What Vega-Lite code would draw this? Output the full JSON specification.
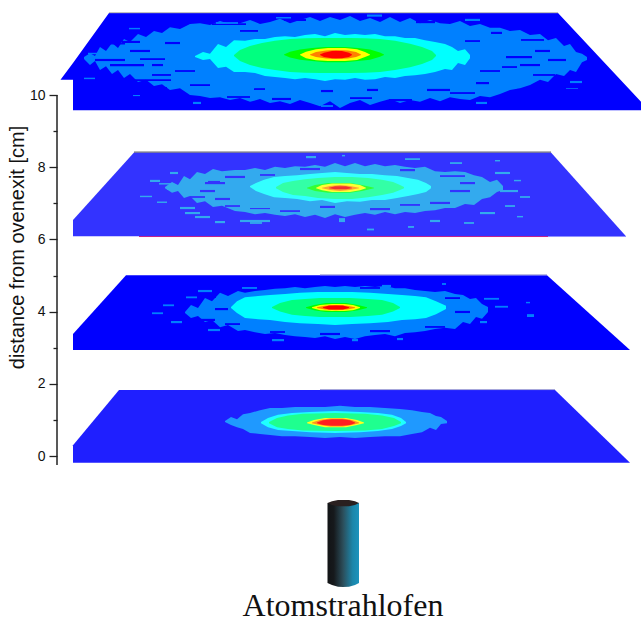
{"$schema":"https://vega.github.io/schema/vega-lite/v6.json","width":641,"height":619,"padding":0,"autosize":"none","background":"white","config":{"view":{"stroke":null}},
"datasets":{
"contours":[
{"level":"1a","x":60.5,"y":10.42,"y2":10.42},{"level":"1a","x":73,"y":10.89,"y2":10.42},{"level":"1a","x":73.01,"y":10.89,"y2":9.58},{"level":"1a","x":109,"y":12.27,"y2":9.58},{"level":"1a","x":558,"y":12.27,"y2":9.58},{"level":"1a","x":641,"y":9.81,"y2":9.58},
{"level":"1b","x":84,"y":11.05,"y2":11.0},{"level":"1b","x":90,"y":11.16,"y2":10.83},{"level":"1b","x":95,"y":11.08,"y2":10.94},{"level":"1b","x":100,"y":11.33,"y2":10.69},{"level":"1b","x":106,"y":11.22,"y2":10.8},{"level":"1b","x":112,"y":11.44,"y2":10.58},{"level":"1b","x":118,"y":11.3,"y2":10.69},{"level":"1b","x":124,"y":11.55,"y2":10.47},{"level":"1b","x":130,"y":11.47,"y2":10.58},{"level":"1b","x":138,"y":11.69,"y2":10.36},{"level":"1b","x":146,"y":11.61,"y2":10.42},{"level":"1b","x":154,"y":11.77,"y2":10.25},{"level":"1b","x":162,"y":11.72,"y2":10.3},{"level":"1b","x":170,"y":11.88,"y2":10.14},{"level":"1b","x":180,"y":11.83,"y2":10.19},{"level":"1b","x":190,"y":11.97,"y2":10.0},{"level":"1b","x":200,"y":11.99,"y2":9.97},{"level":"1b","x":210,"y":11.94,"y2":9.92},{"level":"1b","x":220,"y":12.05,"y2":9.94},{"level":"1b","x":230,"y":11.97,"y2":9.86},{"level":"1b","x":240,"y":11.99,"y2":9.92},{"level":"1b","x":250,"y":12.08,"y2":9.81},{"level":"1b","x":260,"y":11.97,"y2":9.89},{"level":"1b","x":270,"y":12.02,"y2":9.78},{"level":"1b","x":280,"y":12.11,"y2":9.83},{"level":"1b","x":290,"y":11.99,"y2":9.75},{"level":"1b","x":300,"y":12.08,"y2":9.86},{"level":"1b","x":310,"y":12.16,"y2":9.78},{"level":"1b","x":320,"y":12.05,"y2":9.69},{"level":"1b","x":330,"y":12.16,"y2":9.83},{"level":"1b","x":340,"y":12.08,"y2":9.64},{"level":"1b","x":350,"y":12.19,"y2":9.78},{"level":"1b","x":360,"y":12.05,"y2":9.86},{"level":"1b","x":370,"y":12.13,"y2":9.72},{"level":"1b","x":380,"y":12.02,"y2":9.81},{"level":"1b","x":390,"y":12.16,"y2":9.89},{"level":"1b","x":400,"y":12.02,"y2":9.78},{"level":"1b","x":410,"y":12.13,"y2":9.86},{"level":"1b","x":420,"y":11.99,"y2":9.81},{"level":"1b","x":430,"y":12.08,"y2":9.92},{"level":"1b","x":440,"y":11.99,"y2":9.83},{"level":"1b","x":450,"y":11.97,"y2":9.94},{"level":"1b","x":460,"y":12.05,"y2":9.89},{"level":"1b","x":470,"y":11.91,"y2":9.86},{"level":"1b","x":480,"y":11.97,"y2":9.97},{"level":"1b","x":490,"y":11.86,"y2":9.94},{"level":"1b","x":500,"y":11.86,"y2":10.03},{"level":"1b","x":510,"y":11.77,"y2":10.14},{"level":"1b","x":520,"y":11.8,"y2":10.19},{"level":"1b","x":530,"y":11.66,"y2":10.28},{"level":"1b","x":540,"y":11.69,"y2":10.42},{"level":"1b","x":548,"y":11.52,"y2":10.36},{"level":"1b","x":556,"y":11.58,"y2":10.58},{"level":"1b","x":564,"y":11.36,"y2":10.53},{"level":"1b","x":570,"y":11.41,"y2":10.69},{"level":"1b","x":576,"y":11.19,"y2":10.64},{"level":"1b","x":582,"y":11.14,"y2":10.91},{"level":"1b","x":587,"y":11.05,"y2":10.97},
{"level":"1c","x":195,"y":11.08,"y2":11.05},{"level":"1c","x":203,"y":11.19,"y2":10.97},{"level":"1c","x":210,"y":11.14,"y2":11.0},{"level":"1c","x":218,"y":11.41,"y2":10.75},{"level":"1c","x":226,"y":11.33,"y2":10.78},{"level":"1c","x":234,"y":11.52,"y2":10.64},{"level":"1c","x":245,"y":11.5,"y2":10.64},{"level":"1c","x":255,"y":11.55,"y2":10.61},{"level":"1c","x":265,"y":11.55,"y2":10.53},{"level":"1c","x":275,"y":11.61,"y2":10.5},{"level":"1c","x":285,"y":11.63,"y2":10.47},{"level":"1c","x":295,"y":11.61,"y2":10.44},{"level":"1c","x":305,"y":11.66,"y2":10.47},{"level":"1c","x":315,"y":11.69,"y2":10.44},{"level":"1c","x":325,"y":11.63,"y2":10.39},{"level":"1c","x":335,"y":11.72,"y2":10.44},{"level":"1c","x":345,"y":11.66,"y2":10.42},{"level":"1c","x":355,"y":11.69,"y2":10.47},{"level":"1c","x":365,"y":11.66,"y2":10.42},{"level":"1c","x":375,"y":11.69,"y2":10.44},{"level":"1c","x":385,"y":11.63,"y2":10.5},{"level":"1c","x":395,"y":11.63,"y2":10.47},{"level":"1c","x":405,"y":11.58,"y2":10.53},{"level":"1c","x":415,"y":11.58,"y2":10.55},{"level":"1c","x":425,"y":11.52,"y2":10.58},{"level":"1c","x":435,"y":11.47,"y2":10.64},{"level":"1c","x":445,"y":11.41,"y2":10.72},{"level":"1c","x":452,"y":11.33,"y2":10.69},{"level":"1c","x":458,"y":11.22,"y2":10.89},{"level":"1c","x":465,"y":11.27,"y2":10.83},{"level":"1c","x":470,"y":11.11,"y2":11.02},
{"level":"1d","x":234,"y":11.11,"y2":11.08},{"level":"1d","x":240,"y":11.25,"y2":10.94},{"level":"1d","x":250,"y":11.36,"y2":10.83},{"level":"1d","x":262,"y":11.44,"y2":10.75},{"level":"1d","x":275,"y":11.5,"y2":10.69},{"level":"1d","x":290,"y":11.55,"y2":10.64},{"level":"1d","x":305,"y":11.57,"y2":10.62},{"level":"1d","x":320,"y":11.58,"y2":10.61},{"level":"1d","x":350,"y":11.58,"y2":10.61},{"level":"1d","x":365,"y":11.57,"y2":10.62},{"level":"1d","x":380,"y":11.55,"y2":10.64},{"level":"1d","x":395,"y":11.5,"y2":10.69},{"level":"1d","x":410,"y":11.42,"y2":10.77},{"level":"1d","x":422,"y":11.33,"y2":10.86},{"level":"1d","x":432,"y":11.22,"y2":10.97},{"level":"1d","x":436,"y":11.11,"y2":11.08},
{"level":"1e","x":284,"y":11.12,"y2":11.11},{"level":"1e","x":290,"y":11.2,"y2":11.04},{"level":"1e","x":300,"y":11.26,"y2":10.98},{"level":"1e","x":312,"y":11.3,"y2":10.94},{"level":"1e","x":325,"y":11.33,"y2":10.91},{"level":"1e","x":345,"y":11.33,"y2":10.91},{"level":"1e","x":358,"y":11.3,"y2":10.94},{"level":"1e","x":370,"y":11.26,"y2":10.98},{"level":"1e","x":380,"y":11.18,"y2":11.06},{"level":"1e","x":384,"y":11.12,"y2":11.11},
{"level":"1f","x":300,"y":11.12,"y2":11.11},{"level":"1f","x":306,"y":11.2,"y2":11.02},{"level":"1f","x":316,"y":11.27,"y2":10.96},{"level":"1f","x":328,"y":11.3,"y2":10.94},{"level":"1f","x":345,"y":11.3,"y2":10.94},{"level":"1f","x":357,"y":11.27,"y2":10.97},{"level":"1f","x":365,"y":11.19,"y2":11.05},{"level":"1f","x":370,"y":11.12,"y2":11.11},
{"level":"1g","x":310,"y":11.12,"y2":11.11},{"level":"1g","x":316,"y":11.19,"y2":11.05},{"level":"1g","x":326,"y":11.23,"y2":11.01},{"level":"1g","x":336,"y":11.25,"y2":11.0},{"level":"1g","x":348,"y":11.23,"y2":11.01},{"level":"1g","x":356,"y":11.19,"y2":11.05},{"level":"1g","x":361,"y":11.12,"y2":11.11},
{"level":"1h","x":320,"y":11.12,"y2":11.11},{"level":"1h","x":324,"y":11.17,"y2":11.05},{"level":"1h","x":332,"y":11.22,"y2":11.02},{"level":"1h","x":342,"y":11.22,"y2":11.02},{"level":"1h","x":349,"y":11.17,"y2":11.05},{"level":"1h","x":352,"y":11.12,"y2":11.11},
{"level":"2a","x":73,"y":6.54,"y2":6.09},{"level":"2a","x":134,"y":8.41,"y2":6.09},{"level":"2a","x":551,"y":8.41,"y2":6.09},{"level":"2a","x":626,"y":6.09,"y2":6.09},
{"level":"2b","x":165,"y":7.45,"y2":7.42},{"level":"2b","x":172,"y":7.59,"y2":7.29},{"level":"2b","x":178,"y":7.51,"y2":7.34},{"level":"2b","x":184,"y":7.76,"y2":7.15},{"level":"2b","x":190,"y":7.67,"y2":7.2},{"level":"2b","x":197,"y":7.87,"y2":7.01},{"level":"2b","x":205,"y":7.81,"y2":7.06},{"level":"2b","x":213,"y":7.95,"y2":6.9},{"level":"2b","x":222,"y":7.89,"y2":6.93},{"level":"2b","x":235,"y":7.92,"y2":6.79},{"level":"2b","x":245,"y":7.92,"y2":6.76},{"level":"2b","x":255,"y":7.98,"y2":6.7},{"level":"2b","x":265,"y":7.92,"y2":6.73},{"level":"2b","x":275,"y":8.01,"y2":6.68},{"level":"2b","x":285,"y":7.98,"y2":6.65},{"level":"2b","x":295,"y":8.03,"y2":6.7},{"level":"2b","x":305,"y":8.01,"y2":6.62},{"level":"2b","x":315,"y":8.06,"y2":6.68},{"level":"2b","x":325,"y":8.01,"y2":6.59},{"level":"2b","x":335,"y":8.12,"y2":6.7},{"level":"2b","x":345,"y":8.03,"y2":6.62},{"level":"2b","x":355,"y":8.12,"y2":6.68},{"level":"2b","x":365,"y":8.03,"y2":6.73},{"level":"2b","x":375,"y":8.09,"y2":6.68},{"level":"2b","x":385,"y":8.03,"y2":6.76},{"level":"2b","x":395,"y":8.06,"y2":6.7},{"level":"2b","x":405,"y":8.01,"y2":6.76},{"level":"2b","x":415,"y":7.98,"y2":6.73},{"level":"2b","x":425,"y":8.01,"y2":6.79},{"level":"2b","x":435,"y":7.89,"y2":6.81},{"level":"2b","x":445,"y":7.87,"y2":6.87},{"level":"2b","x":455,"y":7.89,"y2":6.87},{"level":"2b","x":465,"y":7.87,"y2":6.98},{"level":"2b","x":474,"y":7.78,"y2":6.95},{"level":"2b","x":482,"y":7.73,"y2":7.12},{"level":"2b","x":490,"y":7.59,"y2":7.17},{"level":"2b","x":497,"y":7.65,"y2":7.31},{"level":"2b","x":503,"y":7.48,"y2":7.37},
{"level":"2c","x":250,"y":7.48,"y2":7.45},{"level":"2c","x":256,"y":7.56,"y2":7.34},{"level":"2c","x":264,"y":7.65,"y2":7.26},{"level":"2c","x":274,"y":7.73,"y2":7.17},{"level":"2c","x":285,"y":7.76,"y2":7.15},{"level":"2c","x":297,"y":7.78,"y2":7.12},{"level":"2c","x":310,"y":7.81,"y2":7.06},{"level":"2c","x":322,"y":7.84,"y2":7.09},{"level":"2c","x":335,"y":7.87,"y2":7.01},{"level":"2c","x":347,"y":7.84,"y2":7.06},{"level":"2c","x":360,"y":7.81,"y2":7.04},{"level":"2c","x":372,"y":7.81,"y2":7.09},{"level":"2c","x":385,"y":7.78,"y2":7.09},{"level":"2c","x":397,"y":7.76,"y2":7.15},{"level":"2c","x":408,"y":7.7,"y2":7.2},{"level":"2c","x":418,"y":7.65,"y2":7.26},{"level":"2c","x":426,"y":7.56,"y2":7.31},{"level":"2c","x":431,"y":7.48,"y2":7.42},
{"level":"2d","x":276,"y":7.45,"y2":7.42},{"level":"2d","x":283,"y":7.56,"y2":7.31},{"level":"2d","x":293,"y":7.62,"y2":7.23},{"level":"2d","x":305,"y":7.67,"y2":7.2},{"level":"2d","x":318,"y":7.7,"y2":7.15},{"level":"2d","x":335,"y":7.73,"y2":7.12},{"level":"2d","x":352,"y":7.73,"y2":7.12},{"level":"2d","x":368,"y":7.7,"y2":7.17},{"level":"2d","x":382,"y":7.65,"y2":7.23},{"level":"2d","x":393,"y":7.59,"y2":7.29},{"level":"2d","x":400,"y":7.51,"y2":7.37},{"level":"2d","x":404,"y":7.45,"y2":7.42},
{"level":"2e","x":307,"y":7.43,"y2":7.42},{"level":"2e","x":315,"y":7.51,"y2":7.34},{"level":"2e","x":328,"y":7.56,"y2":7.29},{"level":"2e","x":350,"y":7.56,"y2":7.29},{"level":"2e","x":362,"y":7.51,"y2":7.34},{"level":"2e","x":374,"y":7.43,"y2":7.42},
{"level":"2f","x":316,"y":7.43,"y2":7.42},{"level":"2f","x":322,"y":7.51,"y2":7.36},{"level":"2f","x":332,"y":7.55,"y2":7.31},{"level":"2f","x":350,"y":7.55,"y2":7.31},{"level":"2f","x":360,"y":7.51,"y2":7.36},{"level":"2f","x":366,"y":7.43,"y2":7.42},
{"level":"2g","x":322,"y":7.43,"y2":7.42},{"level":"2g","x":330,"y":7.48,"y2":7.37},{"level":"2g","x":340,"y":7.51,"y2":7.34},{"level":"2g","x":350,"y":7.48,"y2":7.37},{"level":"2g","x":359,"y":7.43,"y2":7.42},
{"level":"2h","x":329,"y":7.43,"y2":7.42},{"level":"2h","x":335,"y":7.47,"y2":7.39},{"level":"2h","x":346,"y":7.47,"y2":7.39},{"level":"2h","x":352,"y":7.43,"y2":7.42},
{"level":"3a","x":73,"y":3.38,"y2":2.94},{"level":"3a","x":126,"y":5.01,"y2":2.94},{"level":"3a","x":547,"y":5.01,"y2":2.94},{"level":"3a","x":630,"y":2.94,"y2":2.94},
{"level":"3b","x":185,"y":3.99,"y2":3.96},{"level":"3b","x":191,"y":4.18,"y2":3.82},{"level":"3b","x":198,"y":4.1,"y2":3.88},{"level":"3b","x":205,"y":4.38,"y2":3.71},{"level":"3b","x":212,"y":4.29,"y2":3.77},{"level":"3b","x":220,"y":4.52,"y2":3.57},{"level":"3b","x":228,"y":4.43,"y2":3.63},{"level":"3b","x":238,"y":4.57,"y2":3.46},{"level":"3b","x":245,"y":4.52,"y2":3.49},{"level":"3b","x":255,"y":4.57,"y2":3.43},{"level":"3b","x":265,"y":4.6,"y2":3.38},{"level":"3b","x":275,"y":4.63,"y2":3.41},{"level":"3b","x":285,"y":4.65,"y2":3.35},{"level":"3b","x":295,"y":4.68,"y2":3.32},{"level":"3b","x":305,"y":4.65,"y2":3.3},{"level":"3b","x":315,"y":4.68,"y2":3.27},{"level":"3b","x":325,"y":4.71,"y2":3.32},{"level":"3b","x":335,"y":4.68,"y2":3.24},{"level":"3b","x":345,"y":4.71,"y2":3.3},{"level":"3b","x":355,"y":4.68,"y2":3.24},{"level":"3b","x":365,"y":4.71,"y2":3.32},{"level":"3b","x":375,"y":4.68,"y2":3.35},{"level":"3b","x":385,"y":4.71,"y2":3.38},{"level":"3b","x":395,"y":4.65,"y2":3.32},{"level":"3b","x":405,"y":4.65,"y2":3.41},{"level":"3b","x":415,"y":4.6,"y2":3.43},{"level":"3b","x":425,"y":4.57,"y2":3.46},{"level":"3b","x":435,"y":4.54,"y2":3.52},{"level":"3b","x":445,"y":4.57,"y2":3.55},{"level":"3b","x":455,"y":4.49,"y2":3.52},{"level":"3b","x":463,"y":4.46,"y2":3.71},{"level":"3b","x":470,"y":4.35,"y2":3.66},{"level":"3b","x":476,"y":4.38,"y2":3.85},{"level":"3b","x":482,"y":4.21,"y2":3.8},{"level":"3b","x":488,"y":4.13,"y2":3.99},
{"level":"3c","x":231,"y":4.13,"y2":4.1},{"level":"3c","x":237,"y":4.29,"y2":3.96},{"level":"3c","x":245,"y":4.4,"y2":3.82},{"level":"3c","x":258,"y":4.43,"y2":3.79},{"level":"3c","x":270,"y":4.46,"y2":3.77},{"level":"3c","x":285,"y":4.49,"y2":3.71},{"level":"3c","x":300,"y":4.52,"y2":3.68},{"level":"3c","x":318,"y":4.54,"y2":3.66},{"level":"3c","x":335,"y":4.54,"y2":3.63},{"level":"3c","x":352,"y":4.54,"y2":3.66},{"level":"3c","x":370,"y":4.52,"y2":3.68},{"level":"3c","x":388,"y":4.49,"y2":3.71},{"level":"3c","x":402,"y":4.46,"y2":3.77},{"level":"3c","x":415,"y":4.43,"y2":3.79},{"level":"3c","x":426,"y":4.4,"y2":3.82},{"level":"3c","x":436,"y":4.29,"y2":3.93},{"level":"3c","x":446,"y":4.16,"y2":4.07},
{"level":"3d","x":272,"y":4.13,"y2":4.1},{"level":"3d","x":280,"y":4.24,"y2":4.0},{"level":"3d","x":292,"y":4.32,"y2":3.91},{"level":"3d","x":305,"y":4.35,"y2":3.88},{"level":"3d","x":320,"y":4.38,"y2":3.85},{"level":"3d","x":350,"y":4.38,"y2":3.85},{"level":"3d","x":368,"y":4.35,"y2":3.88},{"level":"3d","x":382,"y":4.32,"y2":3.91},{"level":"3d","x":393,"y":4.24,"y2":4.0},{"level":"3d","x":400,"y":4.13,"y2":4.1},
{"level":"3e","x":306,"y":4.12,"y2":4.1},{"level":"3e","x":314,"y":4.18,"y2":4.04},{"level":"3e","x":326,"y":4.24,"y2":3.99},{"level":"3e","x":346,"y":4.24,"y2":3.99},{"level":"3e","x":358,"y":4.18,"y2":4.04},{"level":"3e","x":367,"y":4.12,"y2":4.1},
{"level":"3f","x":312,"y":4.12,"y2":4.1},{"level":"3f","x":320,"y":4.18,"y2":4.04},{"level":"3f","x":332,"y":4.21,"y2":4.02},{"level":"3f","x":344,"y":4.21,"y2":4.02},{"level":"3f","x":353,"y":4.18,"y2":4.04},{"level":"3f","x":360,"y":4.12,"y2":4.1},
{"level":"3g","x":317,"y":4.12,"y2":4.1},{"level":"3g","x":325,"y":4.16,"y2":4.06},{"level":"3g","x":336,"y":4.18,"y2":4.04},{"level":"3g","x":347,"y":4.16,"y2":4.06},{"level":"3g","x":355,"y":4.12,"y2":4.1},
{"level":"3h","x":323,"y":4.12,"y2":4.1},{"level":"3h","x":329,"y":4.17,"y2":4.06},{"level":"3h","x":343,"y":4.17,"y2":4.06},{"level":"3h","x":349,"y":4.12,"y2":4.1},
{"level":"4a","x":73,"y":0.3,"y2":-0.19},{"level":"4a","x":119,"y":1.83,"y2":-0.19},{"level":"4a","x":555,"y":1.83,"y2":-0.19},{"level":"4a","x":630,"y":-0.19,"y2":-0.19},
{"level":"4b","x":225,"y":0.97,"y2":0.94},{"level":"4b","x":231,"y":1.08,"y2":0.86},{"level":"4b","x":237,"y":1.02,"y2":0.8},{"level":"4b","x":243,"y":1.16,"y2":0.75},{"level":"4b","x":250,"y":1.19,"y2":0.64},{"level":"4b","x":260,"y":1.27,"y2":0.61},{"level":"4b","x":270,"y":1.33,"y2":0.58},{"level":"4b","x":282,"y":1.33,"y2":0.55},{"level":"4b","x":295,"y":1.36,"y2":0.55},{"level":"4b","x":310,"y":1.36,"y2":0.53},{"level":"4b","x":325,"y":1.36,"y2":0.5},{"level":"4b","x":340,"y":1.39,"y2":0.53},{"level":"4b","x":355,"y":1.36,"y2":0.5},{"level":"4b","x":370,"y":1.36,"y2":0.53},{"level":"4b","x":385,"y":1.33,"y2":0.55},{"level":"4b","x":400,"y":1.3,"y2":0.55},{"level":"4b","x":412,"y":1.27,"y2":0.61},{"level":"4b","x":422,"y":1.22,"y2":0.66},{"level":"4b","x":430,"y":1.19,"y2":0.78},{"level":"4b","x":436,"y":1.11,"y2":0.72},{"level":"4b","x":441,"y":1.08,"y2":0.89},{"level":"4b","x":447,"y":0.97,"y2":0.91},
{"level":"4c","x":261,"y":0.94,"y2":0.91},{"level":"4c","x":268,"y":1.05,"y2":0.8},{"level":"4c","x":278,"y":1.14,"y2":0.72},{"level":"4c","x":292,"y":1.19,"y2":0.69},{"level":"4c","x":310,"y":1.22,"y2":0.66},{"level":"4c","x":335,"y":1.25,"y2":0.64},{"level":"4c","x":360,"y":1.22,"y2":0.66},{"level":"4c","x":378,"y":1.19,"y2":0.69},{"level":"4c","x":392,"y":1.14,"y2":0.75},{"level":"4c","x":401,"y":1.05,"y2":0.83},{"level":"4c","x":406,"y":0.94,"y2":0.91},
{"level":"4d","x":269,"y":0.94,"y2":0.91},{"level":"4d","x":277,"y":1.05,"y2":0.8},{"level":"4d","x":288,"y":1.12,"y2":0.75},{"level":"4d","x":303,"y":1.17,"y2":0.71},{"level":"4d","x":335,"y":1.19,"y2":0.69},{"level":"4d","x":365,"y":1.17,"y2":0.71},{"level":"4d","x":382,"y":1.12,"y2":0.75},{"level":"4d","x":394,"y":1.05,"y2":0.83},{"level":"4d","x":401,"y":0.94,"y2":0.91},
{"level":"4f","x":307,"y":0.93,"y2":0.91},{"level":"4f","x":314,"y":1.0,"y2":0.86},{"level":"4f","x":325,"y":1.05,"y2":0.8},{"level":"4f","x":346,"y":1.05,"y2":0.8},{"level":"4f","x":357,"y":1.0,"y2":0.86},{"level":"4f","x":364,"y":0.93,"y2":0.91},
{"level":"4g","x":312,"y":0.93,"y2":0.91},{"level":"4g","x":320,"y":1.0,"y2":0.86},{"level":"4g","x":330,"y":1.04,"y2":0.82},{"level":"4g","x":343,"y":1.04,"y2":0.82},{"level":"4g","x":352,"y":1.0,"y2":0.86},{"level":"4g","x":359,"y":0.93,"y2":0.91},
{"level":"4h","x":317,"y":0.93,"y2":0.91},{"level":"4h","x":323,"y":0.99,"y2":0.86},{"level":"4h","x":332,"y":1.02,"y2":0.84},{"level":"4h","x":342,"y":1.02,"y2":0.84},{"level":"4h","x":350,"y":0.99,"y2":0.86},{"level":"4h","x":355,"y":0.93,"y2":0.91}
],
"specks":[
{"level":"1a","x":107,"x2":125,"y":11.44,"y2":11.4},{"level":"1a","x":122,"x2":140,"y":11.5,"y2":11.44},{"level":"1a","x":95,"x2":125,"y":11.0,"y2":10.94},{"level":"1a","x":110,"x2":144,"y":10.86,"y2":10.8},{"level":"1a","x":122,"x2":171,"y":10.44,"y2":10.39},{"level":"1a","x":152,"x2":163,"y":10.86,"y2":10.8},{"level":"1a","x":152,"x2":171,"y":10.58,"y2":10.53},{"level":"1a","x":155,"x2":167,"y":10.22,"y2":10.17},{"level":"1a","x":212,"x2":246,"y":11.99,"y2":11.94},{"level":"1a","x":227,"x2":250,"y":9.97,"y2":9.92},{"level":"1a","x":254,"x2":265,"y":10.19,"y2":10.14},{"level":"1a","x":272,"x2":291,"y":9.92,"y2":9.86},{"level":"1a","x":321,"x2":333,"y":10.14,"y2":10.08},{"level":"1a","x":367,"x2":378,"y":10.17,"y2":10.11},{"level":"1a","x":427,"x2":450,"y":10.17,"y2":10.11},{"level":"1a","x":389,"x2":412,"y":9.89,"y2":9.83},{"level":"1a","x":476,"x2":489,"y":10.36,"y2":10.3},{"level":"1a","x":517,"x2":536,"y":10.17,"y2":10.11},{"level":"1a","x":533,"x2":555,"y":10.58,"y2":10.53},{"level":"1a","x":548,"x2":566,"y":11.0,"y2":10.94},{"level":"1a","x":521,"x2":544,"y":11.55,"y2":11.5},{"level":"1a","x":491,"x2":502,"y":11.75,"y2":11.69},{"level":"1a","x":416,"x2":435,"y":12.05,"y2":11.99},{"level":"1a","x":284,"x2":306,"y":12.11,"y2":12.05},{"level":"1a","x":506,"x2":532,"y":11.08,"y2":11.02},{"level":"1a","x":502,"x2":517,"y":10.8,"y2":10.75},{"level":"1a","x":130,"x2":150,"y":11.25,"y2":11.19},{"level":"1a","x":140,"x2":165,"y":11.02,"y2":10.97},{"level":"1a","x":165,"x2":180,"y":11.47,"y2":11.41},{"level":"1a","x":175,"x2":195,"y":10.69,"y2":10.64},{"level":"1a","x":190,"x2":210,"y":10.3,"y2":10.25},{"level":"1a","x":240,"x2":258,"y":11.8,"y2":11.75},{"level":"1a","x":350,"x2":372,"y":9.94,"y2":9.89},{"level":"1a","x":465,"x2":480,"y":11.52,"y2":11.47},{"level":"1a","x":480,"x2":500,"y":10.69,"y2":10.64},{"level":"1a","x":520,"x2":540,"y":10.86,"y2":10.8},{"level":"1a","x":535,"x2":550,"y":11.25,"y2":11.19},{"level":"1a","x":450,"x2":475,"y":10.08,"y2":10.03},
{"level":"1b","x":129,"x2":140,"y":11.86,"y2":11.82},{"level":"1b","x":88,"x2":99,"y":11.17,"y2":11.13},{"level":"1b","x":84,"x2":95,"y":10.48,"y2":10.44},{"level":"1b","x":133,"x2":140,"y":10.0,"y2":9.97},{"level":"1b","x":193,"x2":201,"y":9.81,"y2":9.75},{"level":"1b","x":321,"x2":333,"y":9.72,"y2":9.67},{"level":"1b","x":216,"x2":238,"y":12.02,"y2":11.97},{"level":"1b","x":367,"x2":382,"y":12.23,"y2":12.17},{"level":"1b","x":276,"x2":291,"y":12.16,"y2":12.12},{"level":"1b","x":476,"x2":487,"y":9.81,"y2":9.75},{"level":"1b","x":566,"x2":578,"y":10.19,"y2":10.17},{"level":"1b","x":570,"x2":582,"y":10.39,"y2":10.33},{"level":"1b","x":465,"x2":480,"y":12.11,"y2":12.05},
{"level":"2a","x":208,"x2":220,"y":7.62,"y2":7.58},{"level":"2a","x":200,"x2":215,"y":7.37,"y2":7.31},{"level":"2a","x":205,"x2":225,"y":7.59,"y2":7.53},{"level":"2a","x":190,"x2":205,"y":7.2,"y2":7.15},{"level":"2a","x":215,"x2":230,"y":7.15,"y2":7.09},{"level":"2a","x":225,"x2":240,"y":6.95,"y2":6.9},{"level":"2a","x":250,"x2":270,"y":6.87,"y2":6.84},{"level":"2a","x":280,"x2":300,"y":6.81,"y2":6.76},{"level":"2a","x":320,"x2":335,"y":6.93,"y2":6.87},{"level":"2a","x":370,"x2":390,"y":6.87,"y2":6.81},{"level":"2a","x":400,"x2":420,"y":6.98,"y2":6.93},{"level":"2a","x":430,"x2":450,"y":7.04,"y2":6.98},{"level":"2a","x":450,"x2":470,"y":7.37,"y2":7.31},{"level":"2a","x":460,"x2":475,"y":7.59,"y2":7.53},{"level":"2a","x":440,"x2":465,"y":7.78,"y2":7.73},{"level":"2a","x":400,"x2":415,"y":7.95,"y2":7.89},{"level":"2a","x":300,"x2":320,"y":7.98,"y2":7.92},{"level":"2a","x":260,"x2":275,"y":7.81,"y2":7.76},{"level":"2a","x":225,"x2":245,"y":7.76,"y2":7.7},
{"level":"2b","x":140,"x2":152,"y":7.21,"y2":7.17},{"level":"2b","x":157,"x2":167,"y":7.05,"y2":7.01},{"level":"2b","x":159,"x2":174,"y":7.56,"y2":7.52},{"level":"2b","x":167,"x2":182,"y":7.42,"y2":7.37},{"level":"2b","x":180,"x2":195,"y":6.9,"y2":6.84},{"level":"2b","x":195,"x2":210,"y":6.65,"y2":6.59},{"level":"2b","x":215,"x2":225,"y":6.51,"y2":6.45},{"level":"2b","x":240,"x2":270,"y":6.54,"y2":6.48},{"level":"2b","x":339,"x2":345,"y":6.59,"y2":6.48},{"level":"2b","x":367,"x2":374,"y":6.3,"y2":6.25},{"level":"2b","x":408,"x2":414,"y":6.37,"y2":6.32},{"level":"2b","x":430,"x2":440,"y":6.54,"y2":6.48},{"level":"2b","x":464,"x2":474,"y":6.48,"y2":6.43},{"level":"2b","x":517,"x2":523,"y":6.65,"y2":6.61},{"level":"2b","x":520,"x2":530,"y":7.2,"y2":7.15},{"level":"2b","x":514,"x2":521,"y":7.65,"y2":7.61},{"level":"2b","x":495,"x2":510,"y":7.87,"y2":7.81},{"level":"2b","x":495,"x2":500,"y":8.2,"y2":8.16},{"level":"2b","x":405,"x2":420,"y":8.25,"y2":8.2},{"level":"2b","x":306,"x2":316,"y":8.31,"y2":8.25},{"level":"2b","x":342,"x2":345,"y":8.34,"y2":8.3},{"level":"2b","x":150,"x2":160,"y":7.65,"y2":7.59},{"level":"2b","x":185,"x2":200,"y":6.76,"y2":6.7},{"level":"2b","x":250,"x2":262,"y":6.48,"y2":6.43},{"level":"2b","x":480,"x2":495,"y":6.76,"y2":6.7},{"level":"2b","x":505,"x2":515,"y":6.95,"y2":6.9},{"level":"2b","x":500,"x2":518,"y":7.37,"y2":7.31},{"level":"2b","x":170,"x2":178,"y":7.87,"y2":7.81},{"level":"2b","x":450,"x2":462,"y":8.14,"y2":8.09},
{"level":"3a","x":200,"x2":215,"y":3.8,"y2":3.74},{"level":"3a","x":215,"x2":228,"y":4.1,"y2":4.04},{"level":"3a","x":205,"x2":216,"y":4.43,"y2":4.38},{"level":"3a","x":225,"x2":240,"y":3.68,"y2":3.63},{"level":"3a","x":270,"x2":285,"y":3.46,"y2":3.41},{"level":"3a","x":320,"x2":340,"y":3.41,"y2":3.35},{"level":"3a","x":370,"x2":390,"y":3.49,"y2":3.43},{"level":"3a","x":425,"x2":445,"y":3.6,"y2":3.55},{"level":"3a","x":455,"x2":470,"y":4.02,"y2":3.96},{"level":"3a","x":445,"x2":460,"y":4.4,"y2":4.35},{"level":"3a","x":360,"x2":380,"y":4.68,"y2":4.63},
{"level":"3b","x":152,"x2":163,"y":3.98,"y2":3.93},{"level":"3b","x":171,"x2":182,"y":3.74,"y2":3.68},{"level":"3b","x":163,"x2":174,"y":4.2,"y2":4.15},{"level":"3b","x":186,"x2":197,"y":4.42,"y2":4.37},{"level":"3b","x":198,"x2":212,"y":4.6,"y2":4.54},{"level":"3b","x":208,"x2":220,"y":3.52,"y2":3.46},{"level":"3b","x":272,"x2":284,"y":3.24,"y2":3.18},{"level":"3b","x":352,"x2":358,"y":3.24,"y2":3.18},{"level":"3b","x":397,"x2":403,"y":3.27,"y2":3.21},{"level":"3b","x":480,"x2":487,"y":3.74,"y2":3.68},{"level":"3b","x":495,"x2":508,"y":4.16,"y2":4.11},{"level":"3b","x":484,"x2":499,"y":4.38,"y2":4.33},{"level":"3b","x":527,"x2":534,"y":3.93,"y2":3.85},{"level":"3b","x":526,"x2":530,"y":4.27,"y2":4.23},{"level":"3b","x":442,"x2":446,"y":4.79,"y2":4.74},{"level":"3b","x":382,"x2":391,"y":4.74,"y2":4.68},{"level":"3b","x":242,"x2":257,"y":4.68,"y2":4.63}
],
"edges":[
{"level":"e1","x":109,"x2":558,"y":12.28},{"level":"e2","x":134,"x2":551,"y":8.42},{"level":"e3","x":139,"x2":548,"y":6.08},{"level":"e4","x":548,"x2":626,"y":6.08},{"level":"e5","x":320,"x2":547,"y":5.02},{"level":"e5","x":320,"x2":555,"y":1.84}
],
"ovenBody":[
{"x":327.5,"y":-1.3,"y2":-3.52},{"x":332,"y":-1.3,"y2":-3.57},{"x":338,"y":-1.3,"y2":-3.62},{"x":343,"y":-1.3,"y2":-3.63},{"x":349,"y":-1.3,"y2":-3.62},{"x":355,"y":-1.3,"y2":-3.57},{"x":359,"y":-1.3,"y2":-3.52}
],
"ovenTop":[
{"x":327.5,"y":-1.3,"y2":-1.3},{"x":332,"y":-1.25,"y2":-1.36},{"x":338,"y":-1.22,"y2":-1.39},{"x":343,"y":-1.22,"y2":-1.39},{"x":349,"y":-1.22,"y2":-1.39},{"x":355,"y":-1.25,"y2":-1.36},{"x":359,"y":-1.3,"y2":-1.3}
],
"axisLine":[{"x":57,"y":10,"y2":-0.25}],
"caption":[{"x":343,"y":-4.43,"label":"Atomstrahlofen"}]
},
"encoding":{
"x":{"field":"x","type":"quantitative","scale":{"domain":[0,641],"nice":false,"zero":false},"axis":null},
"y":{"field":"y","type":"quantitative","scale":{"domain":[-4.515,12.632],"nice":false,"zero":false},
"axis":{"orient":"left","offset":-57,"values":[0,1,2,3,4,5,6,7,8,9,10],"labelExpr":"datum.value % 2 == 0 ? datum.label : ''","domain":false,"grid":false,"tickColor":"#222","tickWidth":1.3,"tickSize":{"condition":{"test":"datum.value % 2 == 1","value":4},"value":8},"labelFont":"Liberation Sans","labelFontSize":14,"labelColor":"#111","labelPadding":4,"title":"distance from ovenexit [cm]","titleFont":"Liberation Sans","titleFontSize":20,"titleFontWeight":"normal","titleColor":"#111","titleX":-30,"titleY":247,"titleAngle":-90,"titleAlign":"center"}}
},
"layer":[
{"data":{"name":"contours"},"mark":{"type":"area","interpolate":"linear"},"encoding":{"y2":{"field":"y2"},"color":{"field":"level","type":"nominal","legend":null,"scale":{"domain":["1a","1b","1c","1d","1e","1f","1g","1h","2a","2b","2c","2d","2e","2f","2g","2h","3a","3b","3c","3d","3e","3f","3g","3h","4a","4b","4c","4d","4f","4g","4h","e1","e2","e3","e4","e5"],"range":["#0000ff","#0080ff","#00ffff","#00ff80","#00ff00","#ffff00","#ff8000","#ff0000","#3333ff","#33aaee","#33ffff","#33ffa6","#33ff33","#ffff33","#ffa033","#f03333","#0000ff","#0080ff","#00ffff","#00ff80","#00ff00","#ffff00","#ff8000","#ff0000","#1f1fff","#1f99ff","#1fffff","#1fff8f","#ffff1f","#ff8f1f","#ff1f1f","#b0b0b0","#55555f","#c0208c","#9090ff","#a0a0d8"]}}}},
{"data":{"name":"specks"},"mark":{"type":"rect"},"encoding":{"x2":{"field":"x2"},"y2":{"field":"y2"},"color":{"field":"level","type":"nominal","legend":null}}},
{"data":{"name":"edges"},"mark":{"type":"rule","strokeWidth":1},"encoding":{"x2":{"field":"x2"},"color":{"field":"level","type":"nominal","legend":null}}},
{"data":{"name":"ovenBody"},"mark":{"type":"area","color":{"gradient":"linear","x1":0,"x2":1,"y1":0,"y2":0,"stops":[{"offset":0,"color":"#121416"},{"offset":0.2,"color":"#16191c"},{"offset":0.5,"color":"#2c4f5c"},{"offset":0.8,"color":"#1b86aa"},{"offset":1,"color":"#1b93bd"}]}},"encoding":{"y2":{"field":"y2"}}},
{"data":{"name":"ovenTop"},"mark":{"type":"area","color":"#2a2020"},"encoding":{"y2":{"field":"y2"}}},
{"data":{"name":"axisLine"},"mark":{"type":"rule","color":"#222","strokeWidth":1.5},"encoding":{"y2":{"field":"y2"}}},
{"data":{"name":"caption"},"mark":{"type":"text","font":"Liberation Serif","fontSize":32,"color":"#111","align":"center","baseline":"alphabetic"},"encoding":{"text":{"field":"label"}}}
]}
